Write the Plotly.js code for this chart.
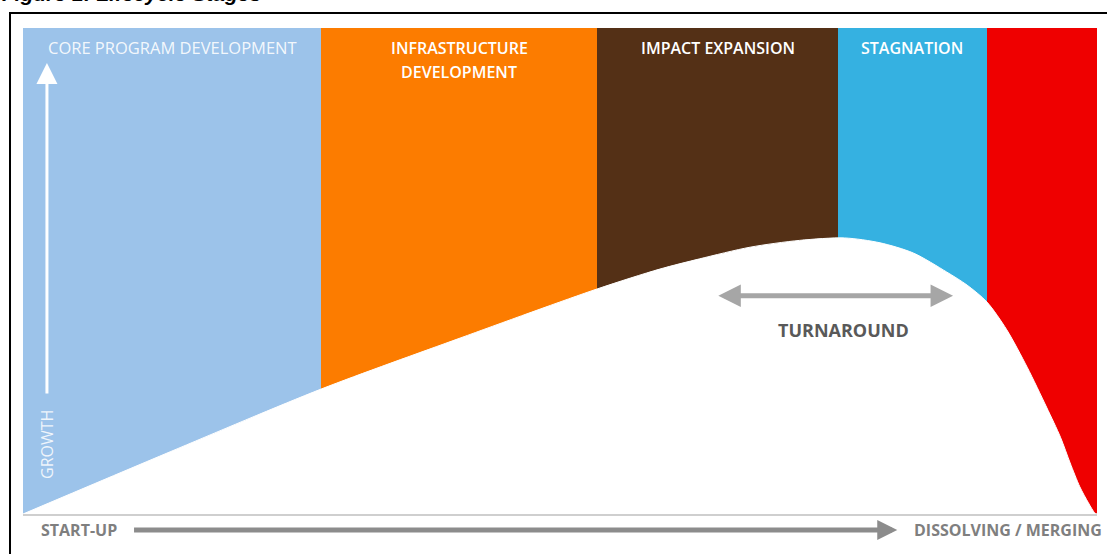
<!DOCTYPE html>
<html>
<head>
<meta charset="utf-8">
<script src="https://cdn.plot.ly/plotly-3.0.1.min.js"></script>
<style>html,body{margin:0;padding:0;background:#fff;}#chart{width:1107px;height:554px;}</style>
</head>
<body>
<div id="chart"></div>
<script>
// Stage bands (x in % of lifecycle)
const stageNames = ["CORE PROGRAM DEVELOPMENT", "INFRASTRUCTURE DEVELOPMENT", "IMPACT EXPANSION", "STAGNATION", "DISSOLVING"];
const stageStart = [0, 27.75, 53.45, 75.88, 89.76];
const stageEnd   = [27.75, 53.45, 75.88, 89.76, 100];
const stageColors = ["#9CC3EA", "#FC7C00", "#543016", "#35B1E1", "#EF0000"];
const bandHeight = [100, 100, 100, 100, 100];

// Growth curve (white area)
const curveX = [0, 13.7, 27.75, 40.7, 53.45, 59.3, 63.0, 67.7, 72.3, 76.5, 79.8, 82.9, 86.0, 87.9, 89.76, 91.6, 93.5, 95.3, 96.6, 97.5, 98.4, 99.2, 99.8, 100];
const curveY = [0, 12.8, 25.7, 36.2, 46.3, 50.4, 52.5, 54.9, 56.3, 56.8, 55.8, 53.7, 49.8, 47.1, 43.6, 37.9, 30.2, 22.0, 15.8, 10.5, 5.6, 2.3, 0.2, 0];

const centers = stageStart.map((s, i) => (s + stageEnd[i]) / 2);
const widths = stageStart.map((s, i) => stageEnd[i] - s);

const traces = [
  {
    type: "bar",
    x: centers,
    y: bandHeight,
    width: widths,
    marker: {color: stageColors, line: {width: 0}},
    hoverinfo: "skip",
    showlegend: false
  },
  {
    type: "scatter",
    mode: "lines",
    x: curveX,
    y: curveY,
    line: {color: "#ffffff", width: 1, shape: "spline", smoothing: 0.8},
    fill: "tozeroy",
    fillcolor: "#ffffff",
    hoverinfo: "skip",
    showlegend: false
  }
];

const labelFont = {family: "Open Sans, sans-serif", size: 16, color: "#ffffff", weight: 600};
const greyBold = {family: "Open Sans, sans-serif", size: 16, color: "#7f7f7f", weight: "bold"};

const annotations = [
  {x: centers[0], y: 95.9, xref: "x", yref: "y", text: "CORE PROGRAM DEVELOPMENT", showarrow: false, font: Object.assign({}, labelFont, {size: 16.5, color: "rgba(255,255,255,0.9)", weight: "normal"})},
  {x: centers[1], y: 95.9, xref: "x", yref: "y", text: "INFRASTRUCTURE", showarrow: false, font: labelFont},
  {x: centers[1], y: 91.0, xref: "x", yref: "y", text: "DEVELOPMENT", showarrow: false, font: labelFont},
  {x: centers[2], y: 95.9, xref: "x", yref: "y", text: "IMPACT EXPANSION", showarrow: false, font: labelFont},
  {x: centers[3], y: 95.9, xref: "x", yref: "y", text: "STAGNATION", showarrow: false, font: labelFont},
  // Growth arrow
  {x: 2.23, y: 92.8, xref: "x", yref: "y", ax: 2.23, ay: 24.5, axref: "x", ayref: "y", text: "", showarrow: true,
   arrowhead: 2, arrowsize: 1.4, arrowwidth: 3, arrowcolor: "#ffffff"},
  {x: 2.23, y: 14.4, xref: "x", yref: "y", text: "GROWTH", textangle: -90, showarrow: false,
   font: {family: "Open Sans, sans-serif", size: 16, color: "rgba(255,255,255,0.85)"}},
  // Turnaround
  {x: 86.6, y: 44.9, xref: "x", yref: "y", ax: 64.6, ay: 44.9, axref: "x", ayref: "y", text: "", showarrow: true,
   arrowhead: 2, startarrowhead: 2, arrowside: "end+start", arrowsize: 0.9, startarrowsize: 0.9, arrowwidth: 5, arrowcolor: "#a6a6a6"},
  {x: 76.4, y: 37.9, xref: "x", yref: "y", text: "TURNAROUND", showarrow: false,
   font: {family: "Open Sans, sans-serif", size: 18, color: "#595959", weight: "bold"}},
  // Bottom axis
  {x: 1.5, y: -0.033, xref: "x", yref: "paper", xanchor: "left", yanchor: "middle", text: "START-UP", showarrow: false, font: greyBold},
  {x: 81.4, y: -0.033, xref: "x", yref: "paper", ax: 10.2, ay: 0, axref: "x", ayref: "pixel", text: "", showarrow: true,
   arrowhead: 2, arrowsize: 0.8, arrowwidth: 5, arrowcolor: "#8c8c8c", standoff: 0},
  {x: 82.8, y: -0.033, xref: "x", yref: "paper", xanchor: "left", yanchor: "middle", text: "DISSOLVING / MERGING", showarrow: false, font: greyBold},
  // Figure title (cut off at top)
  {x: -0.0214, y: 1.044, xref: "paper", yref: "paper", xanchor: "left", yanchor: "bottom", text: "<b><i>Figure 1: Lifecycle Stages</i></b>", showarrow: false,
   font: {family: "Liberation Sans, Arial, sans-serif", size: 21, color: "#000000"}}
];

const shapes = [
  {type: "rect", xref: "paper", yref: "paper", x0: -0.0121, x1: 1.05, y0: -0.2, y1: 1.0309,
   line: {color: "#000000", width: 2}, fillcolor: "rgba(0,0,0,0)", layer: "above"}
];

const layout = {
  width: 1107, height: 554,
  margin: {l: 23, r: 10, t: 28, b: 40, pad: 0},
  paper_bgcolor: "#ffffff",
  plot_bgcolor: "#ffffff",
  bargap: 0,
  xaxis: {range: [0, 100], visible: true, showgrid: false, zeroline: false, showticklabels: false, ticks: "",
          showline: true, linecolor: "#cfcfcf", linewidth: 2, fixedrange: true},
  yaxis: {range: [0, 100], showgrid: false, zeroline: false, showticklabels: false, ticks: "", showline: false, fixedrange: true},
  annotations: annotations,
  shapes: shapes,
  showlegend: false
};

Plotly.newPlot("chart", traces, layout, {displayModeBar: false, staticPlot: true});
</script>
</body>
</html>
